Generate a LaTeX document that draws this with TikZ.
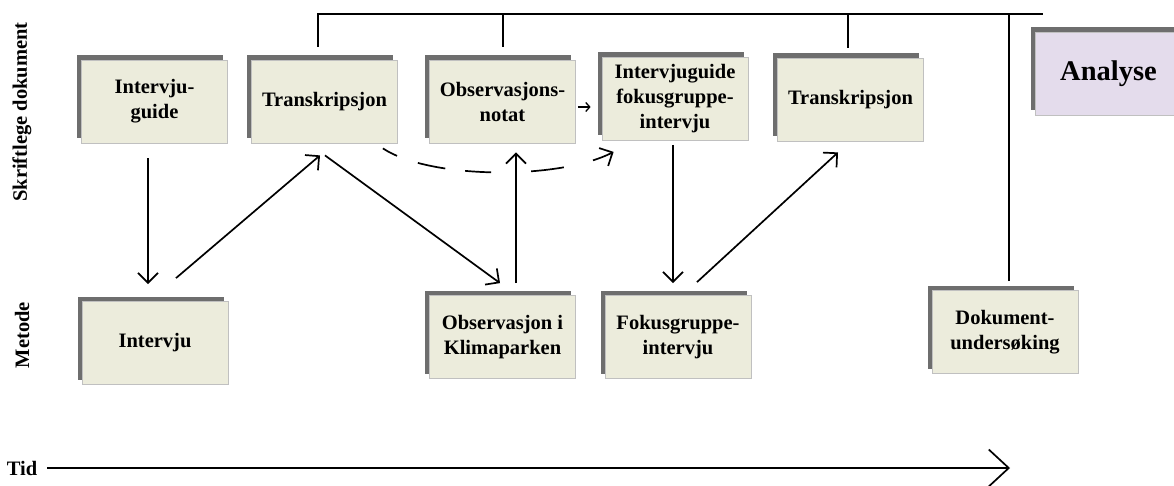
\documentclass[tikz,border=0pt]{standalone}
\usepackage{fontspec}
\setmainfont{Liberation Serif}
\usetikzlibrary{arrows.meta,calc,positioning,shadows}

\definecolor{boxfill}{RGB}{236,236,220}
\definecolor{boxline}{RGB}{192,192,192}
\definecolor{shadowgray}{RGB}{110,110,110}
\definecolor{analysefill}{RGB}{228,220,236}

\begin{document}
\begin{tikzpicture}[x=1pt,y=-1pt,
  font=\bfseries\fontsize{20.5}{25}\selectfont,
  stage/.style={draw=boxline, line width=0.8pt, fill=boxfill,
    minimum width=146pt, minimum height=83pt, inner sep=0pt, align=center,
    drop shadow={shadow xshift=-4.5pt, shadow yshift=5pt, fill=shadowgray, opacity=1}},
  link/.style={line width=1.7pt, -{Straight Barb[length=10pt,width=20pt]}},
  frame/.style={line width=1.7pt}]
  \clip (0,0) rectangle (1174,486);

  % written documents
  \node[stage] (guide) at (154.5,101.5) {Intervju-\\guide};
  \node[stage] (trans1) at (324.5,101.5) {Transkripsjon};
  \node[stage] (notat) at (502.5,101.5) {Observasjons-\\notat};
  \node[stage] (fguide) at (675,99) {Intervjuguide\\fokusgruppe-\\intervju};
  \node[stage] (trans2) at (850.5,99.5) {Transkripsjon};
  \node[stage, fill=analysefill, font=\bfseries\fontsize{28.5}{32}\selectfont] (analyse) at (1108.5,73.5) {Analyse};

  % methods
  \node[stage] (intervju) at (155,343) {Intervju};
  \node[stage] (obs) at (502.5,337) {Observasjon i\\Klimaparken};
  \node[stage] (fokus) at (678,337) {Fokusgruppe-\\intervju};
  \node[stage] (dok) at (1005,332) {Dokument-\\undersøking};

  % row labels
  \node[rotate=90] (skrift) at (22,112) {Skriftlege dokument};
  \node[rotate=90] (metode) at (22,335) {Metode};
  \node[inner sep=0pt] (tid) at (22,468) {Tid};

  % flow between the steps
  \draw[link, shorten <=15pt, shorten >=17pt] ([xshift=-6.5pt]guide.south) -- ([xshift=-7pt]intervju.north);
  \draw[link] ([xshift=21pt,yshift=23pt]intervju.north) -- ([xshift=-4.5pt,yshift=-12pt]trans1.south);
  \draw[link] ([xshift=0.5pt,yshift=-12pt]trans1.south) -- ([xshift=-2.5pt,yshift=12pt]obs.north);
  \draw[link] ([xshift=13.5pt,yshift=12pt]obs.north) -- ([xshift=13.5pt,yshift=-9pt]notat.south);
  \draw[line width=1.3pt, -{Straight Barb[length=4pt,width=9pt]}] ([xshift=2pt,yshift=-5.5pt]notat.east) -- ([xshift=-11pt,yshift=-8pt]fguide.west);
  \draw[link, dash pattern=on 16pt off 22pt on 28pt off 20pt on 26pt off 40pt on 33pt off 30pt on 60pt] ([xshift=-15pt,yshift=-5pt]trans1.south east)
    .. controls +(47,31) and +(-55,28) .. ([xshift=12pt,yshift=-11pt]fguide.south west);
  \draw[link] ([xshift=-2pt,yshift=-4pt]fguide.south) -- ([xshift=-5pt,yshift=12pt]fokus.north);
  \draw[link] ([xshift=19pt,yshift=13pt]fokus.north) -- ([xshift=-12.5pt,yshift=-11pt]trans2.south);

  % top bracket
  \coordinate (barend) at (1043,14);
  \coordinate (s1) at ([xshift=-6.5pt,yshift=13pt]trans1.north);
  \coordinate (s2) at ([xshift=0.5pt,yshift=13pt]notat.north);
  \coordinate (s3) at ([xshift=-2.5pt,yshift=10pt]trans2.north);
  \coordinate (s4) at ([xshift=4pt,yshift=9pt]dok.north);
  \draw[frame] (s1) |- (barend);
  \draw[frame] (s2) -- (s2 |- barend);
  \draw[frame] (s3) -- (s3 |- barend);
  \draw[frame] (s4) -- (s4 |- barend);

  % time axis
  \coordinate (tidend) at (1010,468);
  \draw[line width=1.7pt, -{Straight Barb[length=20pt,width=37pt]}] ([xshift=10pt]tid.east) -- (tidend);
\end{tikzpicture}
\end{document}
